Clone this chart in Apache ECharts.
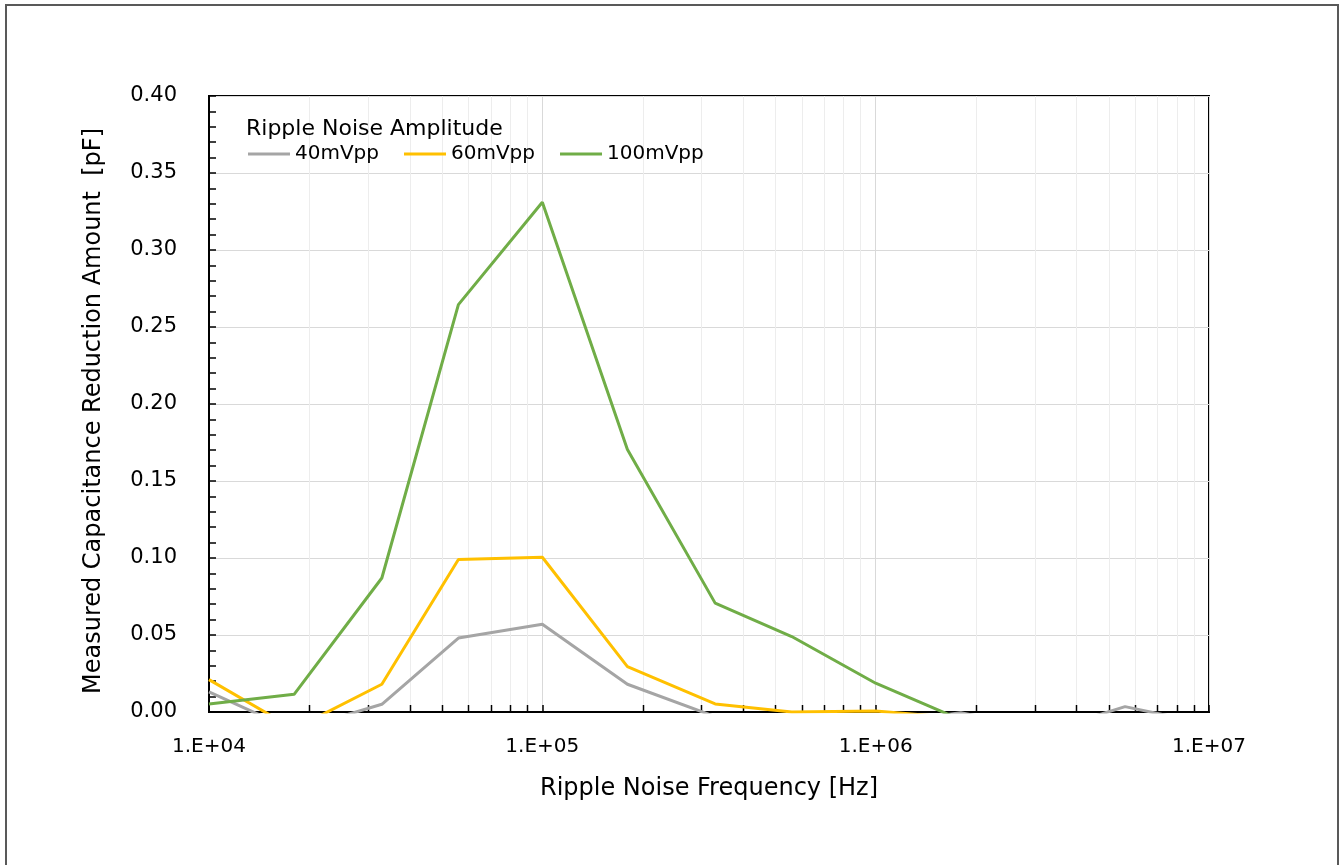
<!DOCTYPE html>
<html><head><meta charset="utf-8">
<script src="https://cdn.jsdelivr.net/npm/echarts@6/dist/echarts.min.js"></script>
<style>html,body{margin:0;padding:0;background:#fff}#c{width:1341px;height:865px}</style>
</head><body><div id="c"></div>
<script>
// Ripple noise frequencies [Hz]
const freqs = [1e4, 1.8e4, 3.3e4, 5.6e4, 1e5, 1.8e5, 3.3e5, 5.6e5, 1e6, 1.8e6, 3.3e6, 5.6e6, 1e7];
// Measured capacitance reduction amount [pF]
const amp40mVpp  = [0.013, -0.012, 0.005, 0.048, 0.057, 0.018, -0.003, -0.010, -0.008, -0.0004, -0.012, 0.0035, -0.008];
const amp60mVpp  = [0.021, -0.011, 0.018, 0.099, 0.1005, 0.0295, 0.0052, 0.0, 0.0007, -0.004, -0.010, -0.010, -0.010];
const amp100mVpp = [0.0052, 0.0115, 0.087, 0.2645, 0.331, 0.1705, 0.0707, 0.049, 0.0187, -0.005, -0.010, -0.010, -0.010];
const seriesNames = ['40mVpp', '60mVpp', '100mVpp'];
const seriesColors = ['#a5a5a5', '#ffc000', '#70ad47'];
const legendTitle = 'Ripple Noise Amplitude';
const xTitle = 'Ripple Noise Frequency [Hz]';
const yTitle = 'Measured Capacitance Reduction Amount  [pF]';
// log-axis minor tick positions (2..9 within each decade)
const minorDecades = [1e4, 1e5, 1e6];
const minorMultipliers = [2, 3, 4, 5, 6, 7, 8, 9];
const minorFreqs = [];
minorDecades.forEach(d => minorMultipliers.forEach(m => minorFreqs.push(d * m)));

const FONT = 'DejaVu Sans';
const values = [amp40mVpp, amp60mVpp, amp100mVpp];

const chart = echarts.init(document.getElementById('c'), null, {renderer: 'canvas'});
const lineSeries = seriesNames.map((n, i) => ({
  name: n, type: 'line', z: 3,
  data: freqs.map((f, j) => [f, values[i][j]]),
  symbol: 'none', showSymbol: false, clip: true,
  lineStyle: {color: seriesColors[i], width: 3},
  itemStyle: {color: seriesColors[i]},
  emphasis: {disabled: true}
}));

const option = {
  animation: false,
  backgroundColor: '#fff',
  textStyle: {fontFamily: FONT},
  title: {
    text: legendTitle, left: 241, top: 113,
    textStyle: {fontSize: 22, fontWeight: 'normal', color: '#000', fontFamily: FONT}
  },
  legend: {
    data: seriesNames, left: 243, top: 139, icon: 'rect',
    itemWidth: 42, itemHeight: 3, itemGap: 25,
    textStyle: {fontSize: 20, color: '#000', fontFamily: FONT}
  },
  graphic: [{
    type: 'rect', silent: true, z: -10,
    shape: {x: 6, y: 5, width: 1332, height: 900},
    style: {fill: 'none', stroke: '#595959', lineWidth: 2}
  }],
  grid: {left: 209, right: 132, top: 96, bottom: 153, show: true, borderColor: '#000', borderWidth: 2, backgroundColor: 'transparent'},
  xAxis: {
    type: 'log', logBase: 10, min: 1e4, max: 1e7,
    name: xTitle, nameLocation: 'middle', nameGap: 65,
    nameTextStyle: {fontSize: 24, color: '#000', fontFamily: FONT},
    axisLine: {lineStyle: {color: '#000', width: 2}},
    axisTick: {inside: true, length: 7, lineStyle: {color: '#000', width: 1.5}},
    axisLabel: {margin: 25, fontSize: 20, color: '#000', fontFamily: FONT,
      formatter: v => '1.E+' + String(Math.round(Math.log10(v))).padStart(2, '0')},
    splitLine: {show: true, lineStyle: {color: '#d9d9d9', width: 1}}
  },
  yAxis: {
    type: 'value', min: 0, max: 0.4, interval: 0.05,
    name: yTitle, nameLocation: 'middle', nameGap: 103,
    nameTextStyle: {fontSize: 24, color: '#000', fontFamily: FONT, padding: [0, 14, 0, 0]},
    axisLine: {show: true, lineStyle: {color: '#000', width: 2}},
    axisTick: {show: true, inside: true, length: 7, lineStyle: {color: '#000', width: 1.5}},
    minorTick: {show: true, splitNumber: 5, length: 7, lineStyle: {color: '#000', width: 1.5}},
    axisLabel: {margin: 32, fontSize: 21, color: '#000', fontFamily: FONT, formatter: v => v.toFixed(2)},
    splitLine: {show: true, lineStyle: {color: '#d9d9d9', width: 1}}
  },
  series: [{
    type: 'custom', z: 1, silent: true,
    data: minorFreqs.map(f => [f, 0]),
    renderItem: (params, api) => {
      const p = api.coord([api.value(0), 0]);
      const cs = params.coordSys;
      const x = Math.round(p[0]) + 0.5;
      return {type: 'group', children: [
        {type: 'line', shape: {x1: x, y1: cs.y, x2: x, y2: cs.y + cs.height}, style: {stroke: '#ededed', lineWidth: 1}},
        {type: 'line', z2: 5, shape: {x1: x, y1: cs.y + cs.height, x2: x, y2: cs.y + cs.height - 7}, style: {stroke: '#000', lineWidth: 1.5}}
      ]};
    }
  }].concat(lineSeries)
};
chart.setOption(option);
</script>
</body></html>
